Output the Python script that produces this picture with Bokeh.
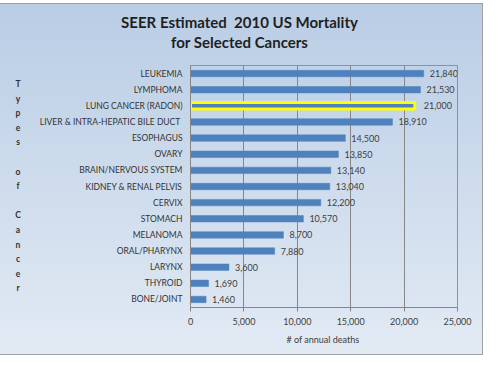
from bokeh.plotting import figure
from bokeh.models import ColumnDataSource, NumeralTickFormatter, FixedTicker, Range1d, Div
from bokeh.layouts import column, row
from bokeh.core.properties import value
from bokeh.embed import file_html
from bokeh.resources import INLINE

categories = ["LEUKEMIA", "LYMPHOMA", "LUNG CANCER (RADON)", "LIVER & INTRA-HEPATIC  BILE DUCT",
              "ESOPHAGUS", "OVARY", "BRAIN/NERVOUS SYSTEM", "KIDNEY & RENAL PELVIS", "CERVIX",
              "STOMACH", "MELANOMA", "ORAL/PHARYNX", "LARYNX", "THYROID", "BONE/JOINT"]
deaths = [21840, 21530, 21000, 18910, 14500, 13850, 13140, 13040, 12200,
          10570, 8700, 7880, 3600, 1690, 1460]
highlight = "LUNG CANCER (RADON)"
x_ticks = [0, 5000, 10000, 15000, 20000, 25000]
title_lines = ["SEER Estimated&nbsp; 2010 US Mortality", "for Selected Cancers"]
y_title = "Types of Cancer"
x_title = "# of annual  deaths"

FONT = "Lato"
TOTAL_W, TOTAL_H = 487, 352
TITLE_H = 50
LETTERS_W = 40
FIG_W, FIG_H = TOTAL_W - LETTERS_W, TOTAL_H - TITLE_H

src = ColumnDataSource(dict(
    cat=categories,
    val=deaths,
    lab=[f"{v:,}" for v in deaths],
    lc=["#FFFF00" if c == highlight else "#4F81BD" for c in categories],
    lw=[3 if c == highlight else 0.5 for c in categories],
    off=[9 if c == highlight else 6 for c in categories],
))

p = figure(width=FIG_W, height=FIG_H, output_backend="svg", toolbar_location=None,
           y_range=list(reversed(categories)), x_range=Range1d(0, 25000),
           min_border_left=148, min_border_right=26, min_border_top=12, min_border_bottom=48,
           margin=0)

p.background_fill_alpha = 0
p.border_fill_alpha = 0
p.outline_line_color = "#7F95B5"

p.hbar(y="cat", right="val", left=0, height=0.4, source=src,
       fill_color="#4F81BD", line_color="lc", line_width="lw")

p.text(x="val", y="cat", text="lab", source=src, x_offset="off",
       text_font=value(FONT), text_font_size="9px", text_color="#404040",
       text_baseline="middle", text_align="left")

p.xaxis.ticker = FixedTicker(ticks=x_ticks)
p.xaxis.formatter = NumeralTickFormatter(format="0,0")
p.xaxis.axis_label = x_title
p.xaxis.axis_label_text_font = FONT
p.xaxis.axis_label_text_font_size = "9px"
p.xaxis.axis_label_text_font_style = "normal"
p.xaxis.axis_label_text_color = "#404040"
p.xaxis.axis_label_standoff = 6
p.xaxis.major_label_text_font = FONT
p.xaxis.major_label_text_font_size = "9px"
p.xaxis.major_label_text_color = "#404040"
p.xaxis.major_label_standoff = 6
p.xaxis.major_tick_out = 4
p.xaxis.major_tick_in = 0
p.xaxis.minor_tick_line_color = None
p.xaxis.axis_line_color = "#868686"
p.xaxis.major_tick_line_color = "#868686"

p.yaxis.major_label_text_font = FONT
p.yaxis.major_label_text_font_size = "8.5px"
p.yaxis.major_label_text_color = "#333333"
p.yaxis.major_label_standoff = 8
p.yaxis.major_tick_out = 0
p.yaxis.major_tick_in = 0
p.yaxis.axis_line_color = "#868686"

p.xgrid.grid_line_color = "#878787"
p.ygrid.grid_line_color = None

title_div = Div(
    text="<br>".join(title_lines), width=TOTAL_W, height=TITLE_H, margin=0,
    styles={"font-family": FONT, "font-size": "15px", "font-weight": "bold",
            "color": "#1F1F1F", "line-height": "20px", "text-align": "center",
            "padding-top": "9px", "box-sizing": "border-box",
            "width": f"{TOTAL_W}px", "height": f"{TITLE_H}px"})

letters = []
for w_i, word in enumerate(y_title.split(" ")):
    if w_i:
        letters.append("&nbsp;")
    letters.extend(list(word))
letters_div = Div(
    text="<br>".join(letters), width=LETTERS_W, height=FIG_H, margin=0,
    styles={"font-family": FONT, "font-size": "8.5px", "font-weight": "bold",
            "color": "#333333", "line-height": "14.6px", "text-align": "center",
            "padding-top": "24px", "padding-left": "4px", "box-sizing": "border-box",
            "width": f"{LETTERS_W}px", "height": f"{FIG_H}px"})

layout = column(title_div, row(letters_div, p, spacing=0, margin=0), spacing=0,
                width=TOTAL_W, height=TOTAL_H, margin=0)
layout.styles = {"background-image": "linear-gradient(#B9CDE5, #E2EAF4)",
                 "outline": "1px solid #A0A0A0", "outline-offset": "-1px",
                 "position": "relative", "left": "-4px", "top": "3px"}

open("out.html", "w").write(file_html(layout, INLINE))
